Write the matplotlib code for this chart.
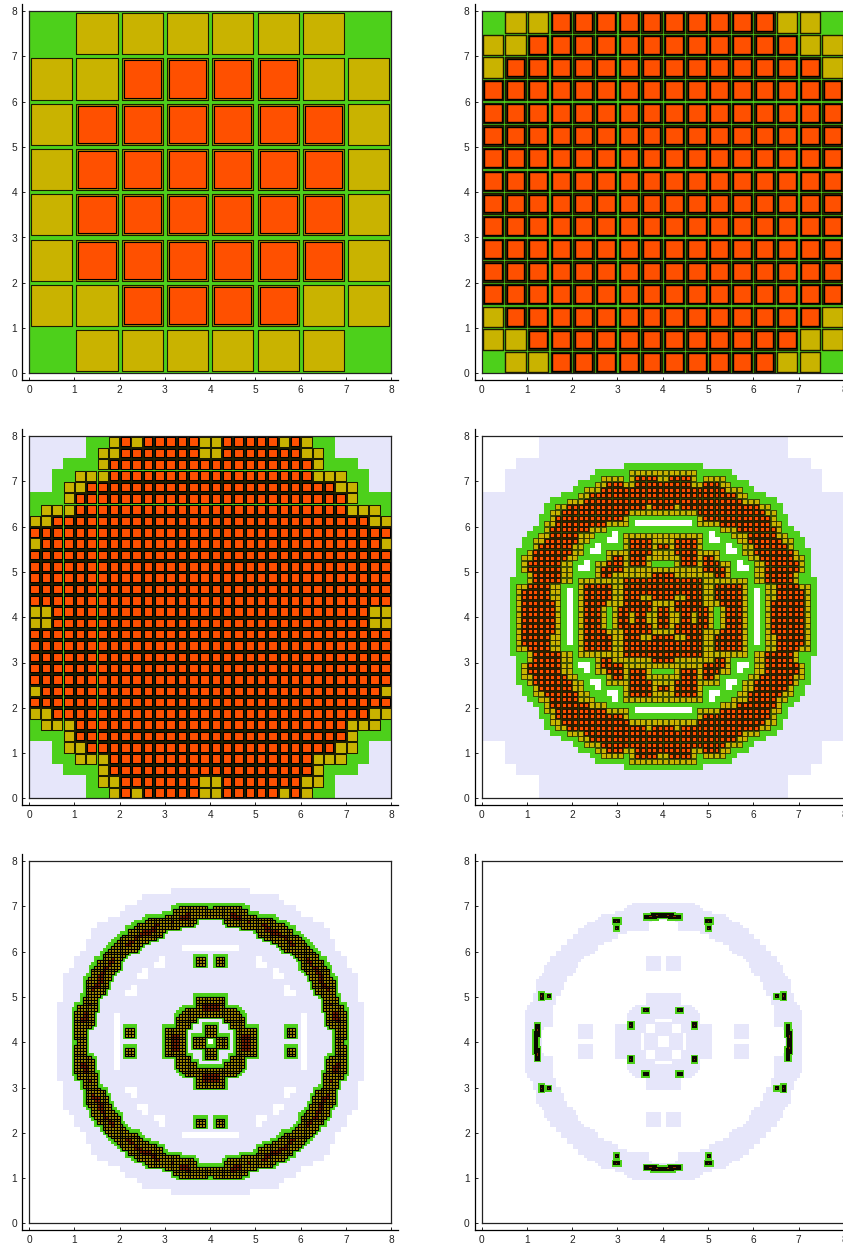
import numpy as np
import matplotlib
matplotlib.use('Agg')
import matplotlib.pyplot as plt
from matplotlib.colors import ListedColormap
from matplotlib.collections import PatchCollection
from matplotlib.patches import Rectangle

# top-left quadrants of the maps, mirrored when drawn
# . white, L lavender, G green, Y yellow assembly, O orange assembly
map_8 = ['GYYY',
         'YYOO',
         'YOOO',
         'YOOO']

map_16 = ['GYYOOOOO',
          'YYOOOOOO',
          'YOOOOOOO',
          'OOOOOOOO',
          'OOOOOOOO',
          'OOOOOOOO',
          'OOOOOOOO',
          'OOOOOOOO']

map_32 = ['LLLLLGGYOYOOOOOY',
          'LLLLLGYYOOOOOOOY',
          'LLLGGGYOOOOOOOOO',
          'LLGGYYYOOOOOOOOO',
          'LLGYYOOOOOOOOOOO',
          'GGGYOOOOOOOOOOOO',
          'GYYYOOOOOOOOOOOO',
          'YYOOOOOOOOOOOOOO',
          'OOOOOOOOOOOOOOOO',
          'YOOOOOOOOOOOOOOO',
          'OOOOOOOOOOOOOOOO',
          'OOOOOOOOOOOOOOOO',
          'OOOOOOOOOOOOOOOO',
          'OOOOOOOOOOOOOOOO',
          'OOOOOOOOOOOOOOOO',
          'YYOOOOOOOOOOOOOO']

map_64 = ['..........LLLLLLLLLLLLLLLLLLLLLL',
          '..........LLLLLLLLLLLLLLLLLLLLLL',
          '..........LLLLLLLLLLLLLLLLLLLLLL',
          '..........LLLLLLLLLLLLLLLLLLLLLL',
          '......LLLLLLLLLLLLLLLLLLLLLLLLLL',
          '......LLLLLLLLLLLLLLLLLLLGGGGGGG',
          '....LLLLLLLLLLLLLLLLGGGGGGYYYYYY',
          '....LLLLLLLLLLLLLLLGGYYYYGYOOOOY',
          '....LLLLLLLLLLLLLGGGYYOOOYYOOOOO',
          '....LLLLLLLLLLLLGGYYYOOOOOOOOOOO',
          'LLLLLLLLLLLLLLGGGYYOOOOOOOOOOOOO',
          'LLLLLLLLLLLLGGGYYYOOOOOOOOOOOOOO',
          'LLLLLLLLLLLGGYYOOOOOOOOOOOOOOYOO',
          'LLLLLLLLLLLGYYOOOOOOOOOOOOYYYYYY',
          'LLLLLLLLLLGGYOOOOOOOOOOOOYGGGGGG',
          'LLLLLLLLLLGYYOOOOOOOOOYYYYG.....',
          'LLLLLLLLLGGYOOOOOOOYYYGGGGGGGGGG',
          'LLLLLLLLGGYYOOOOOYYYGGG.GYYYYYYY',
          'LLLLLLLGGYYOOOOOOYYGGG..GYOOOOYY',
          'LLLLLLLGGYOOOOOOYYGG.GGGGYOOOOYO',
          'LLLLLLGGYOOOOOOOYYG..GYYYYOOOOYY',
          'LLLLLLGYYOOOOOOYYGGGGGYOOYOOOYYY',
          'LLLLLLGYOOOOOOYYGG.GYYOOOYOOOYGG',
          'LLLLLLGYOOOOOOYYG..GYOOOOYYYYYYY',
          'LLLLLLGGYOOOOOYYGGGGYOOYYYYYYYOO',
          'LLLLLGGGYOOOOOYYGYYYYYYYYOOOOOOO',
          'LLLLLGYYOOOOYYGGGYOOOOOYYOOOOOOO',
          'LLLLLGYOOOOOYYG.GYOOOOOYYOOOOOOO',
          'LLLLLGYOOOOOYYG.GYOOOOOYYOOOYYOO',
          'LLLLLGYOOOOOOYG.GYOOOOYYYOOOOOYY',
          'LLLLLGYOOOOOOYG.GYOOOYGYOOOOOOYO',
          'LLLLLGYOOOOOOYG.GYOOOYGYOOYOOYYO']

# start column of the lavender disc per 1/8 row, panel 5
lav_start = [32, 32, 32, 32, 32, 25, 20, 19, 17, 16, 14, 12, 11, 11, 10, 10,
             9, 8, 8, 7, 6, 6, 6, 6, 6, 5, 5, 5, 5, 5, 5, 5]
lav_holes = [(15, 27), (15, 28), (15, 29), (15, 30), (15, 31),
             (17, 23), (18, 22), (18, 23), (19, 20), (20, 19), (20, 20),
             (22, 18), (23, 17), (23, 18), (31, 31)]

# fuel ring of panel 5, 1/16 rows 16..63: first and last column
ring_start = [54, 54, 51, 48, 43, 41, 38, 37, 35, 35, 33, 33, 31, 30, 29, 29,
              27, 27, 26, 25, 24, 24, 23, 23, 23, 23, 20, 20, 20, 20, 20, 20,
              19, 19, 19, 17, 17, 16, 16, 16, 16, 16, 17, 17, 17, 17, 17, 17]
ring_end = [62, 63, 63, 63, 58, 58, 57, 52, 46, 46, 45, 42, 41, 39, 37, 36,
            34, 33, 31, 31, 31, 31, 30, 28, 28, 28, 27, 27, 27, 26, 26, 24,
            23, 23, 23, 23, 23, 22, 22, 22, 22, 22, 19, 19, 19, 19, 19, 19]
# inner ring of panel 5, rows 48..63
core_start = [59, 59, 59, 59, 59, 55, 53, 52, 52, 52, 52, 48, 48, 48, 48, 48]
core_end = [63, 63, 63, 63, 63, 63, 63, 58, 58, 56, 56, 53, 53, 54, 54, 54]
# separate blocks of panel 5: row from, row to, col from, col to
block_r0 = [34, 58]
block_r1 = [36, 61]
block_c0 = [59, 62]
block_c1 = [61, 63]

# lavender band of panel 6, rows 15..63
band_start = [53, 51, 50, 47, 42, 41, 40, 37, 37, 34, 34, 32, 32, 30, 30, 28, 28,
              26, 26, 24, 24, 23, 22, 22, 22, 21, 20, 19, 19, 19, 19, 19, 18, 18,
              18, 17, 16, 16, 15, 15, 15, 15, 15, 15, 15, 15, 15, 15, 15]
band_end = [63, 63, 63, 63, 63, 63, 59, 58, 58, 53, 47, 47, 47, 45, 42, 40, 40,
            39, 37, 35, 34, 33, 31, 31, 31, 30, 29, 28, 28, 27, 26, 26, 26, 25,
            25, 25, 24, 24, 24, 24, 24, 24, 24, 24, 20, 20, 20, 20, 20]
# centre blob of panel 6, rows and columns 47..63
centre_map = ['...........LLLLLL',
              '...........LLLLLL',
              '...........LLLLLL',
              '...........LLLLLL',
              '.......LLLLLLLLLL',
              '......LLLLLLLLLLL',
              '.....LLLLLLLLLLLL',
              '....LLLLLLLLLLLLL',
              '....LLLLLLLLLLLLL',
              '....LLLLLLLLL....',
              '....LLLLLLLLL....',
              '.LLLLLLLLLL...LLL',
              'LLLLLLLLLLL...LLL',
              'LLLLLLLLLLL...LLL',
              'LLLLLLLL..LLLLLLL',
              'LLLLLLLL..LLLLL..',
              'LLLLLLLL..LLLLL..']
# squares of panel 6: row from, row to, col from, col to
square_r0 = [34]
square_r1 = [38]
square_c0 = [58]
square_c1 = [62]
# fuel clusters of panel 6 in 1/16 units: col from, col to, row from, row to
cluster_c0 = [57.5, 60.0, 46.5, 47.0, 52.0]
cluster_c1 = [62.0, 64.0, 49.0, 48.5, 53.5]
cluster_r0 = [19.0, 18.5, 20.5, 23.0, 57.0]
cluster_r1 = [20.5, 20.0, 22.0, 24.5, 59.0]

tick_values = [0, 1, 2, 3, 4, 5, 6, 7, 8]

GREEN = '#4dd01b'
YELLOW = '#c9b300'
ORANGE = '#ff5000'
LAVENDER = '#e6e6fa'
CODES = {'.': 0, 'L': 1, 'G': 2, 'Y': 2, 'O': 2}
base_cmap = ListedColormap(['white', LAVENDER, GREEN])


def mirror(q):
    top = np.hstack([q, q[:, ::-1]])
    return np.vstack([top, top[::-1]])


def char_grid(rows):
    return mirror(np.array([list(r) for r in rows]))


def dilate(mask):
    out = mask.copy()
    for dr in (-1, 0, 1):
        for dc in (-1, 0, 1):
            out |= np.roll(np.roll(mask, dr, 0), dc, 1)
    return out


def setup_panel(col, row):
    px_l = [29.0, 481.5][col]
    px_t = [11, 436, 861][row]
    size = 362.4
    W, H = 843.0, 1247.0
    ax = fig.add_axes([px_l / W, 1 - (px_t + size) / H, size / W, size / H], zorder=2)
    ax.set_xlim(0, 8)
    ax.set_ylim(0, 8)
    ax.set_xticks([])
    ax.set_yticks([])
    for s in ax.spines.values():
        s.set_linewidth(0.9)
        s.set_color('#222222')

    # separate offset axis lines carrying the ticks
    off = 7.0
    scale = size / 8.0
    ax2 = fig.add_axes([(px_l - off) / W, 1 - (px_t + size + off) / H,
                        (size + 2 * off) / W, (size + 2 * off) / H], zorder=1)
    ax2.patch.set_visible(False)
    ax2.set_xlim(-off / scale, 8 + off / scale)
    ax2.set_ylim(-off / scale, 8 + off / scale)
    ax2.spines['top'].set_visible(False)
    ax2.spines['right'].set_visible(False)
    ax2.spines['left'].set_linewidth(0.9)
    ax2.spines['bottom'].set_linewidth(0.9)
    ax2.set_xticks(tick_values)
    ax2.set_yticks(tick_values)
    ax2.tick_params(direction='in', length=2.5, width=0.7, labelsize=7.3,
                    colors='#222222', pad=3.5)
    return ax


def draw_base(ax, codes):
    ax.imshow(codes, cmap=base_cmap, vmin=0, vmax=2, extent=(0, 8, 0, 8),
              origin='upper', interpolation='nearest', aspect='auto', zorder=1)


def draw_map(ax, rows, inset, inner, lw, ring_color):
    grid = char_grid(rows)
    n = grid.shape[0]
    cell = 8.0 / n
    codes = np.vectorize(CODES.get)(grid)
    draw_base(ax, codes)
    outer_rects, outer_colors, inner_rects = [], [], []
    for r in range(n):
        for c in range(n):
            if grid[r, c] not in 'YO':
                continue
            x, y = c * cell, 8 - (r + 1) * cell
            outer_rects.append(Rectangle((x + inset * cell, y + inset * cell),
                                         cell * (1 - 2 * inset), cell * (1 - 2 * inset)))
            outer_colors.append(YELLOW if grid[r, c] == 'Y' else ring_color)
            if grid[r, c] == 'O':
                inner_rects.append(Rectangle((x + inner * cell, y + inner * cell),
                                             cell * (1 - 2 * inner), cell * (1 - 2 * inner)))
    ax.add_collection(PatchCollection(outer_rects, facecolor=outer_colors, edgecolor='#1c1c00',
                                      linewidth=lw, zorder=2))
    ax.add_collection(PatchCollection(inner_rects, facecolor=ORANGE, edgecolor='black',
                                      linewidth=lw, zorder=3))


def fill_spans(mask, first_row, start, end):
    for i, (a, b) in enumerate(zip(start, end)):
        mask[first_row + i, a:b + 1] = True


def panel_five(ax):
    lav = np.ones((32, 32), dtype=bool)
    for r, a in enumerate(lav_start):
        lav[r, :a] = False
    for r, c in lav_holes:
        lav[r, c] = False
        lav[c, r] = False
    lav_full = mirror(np.kron(lav, np.ones((2, 2), dtype=bool)))

    fuel = np.zeros((64, 64), dtype=bool)
    fill_spans(fuel, 16, ring_start, ring_end)
    fill_spans(fuel, 48, core_start, core_end)
    for r0, r1, c0, c1 in zip(block_r0, block_r1, block_c0, block_c1):
        fuel[r0:r1 + 1, c0:c1 + 1] = True
    fuel = fuel | fuel.T
    fuel = mirror(fuel)

    codes = lav_full.astype(int)
    codes[dilate(fuel)] = 2
    draw_base(ax, codes)

    cell = 8.0 / 128
    core = ~dilate(~fuel)
    core = ~dilate(~core)
    rects, colors = [], []
    for r, c in zip(*np.nonzero(fuel)):
        rects.append(Rectangle((c * cell, 8 - (r + 1) * cell), cell, cell))
        colors.append('#a02c00' if core[r, c] else '#c8aa00')
    ax.add_collection(PatchCollection(rects, facecolor=colors, edgecolor='black',
                                      linewidth=0.85, zorder=2))


def panel_six(ax):
    lav = np.zeros((64, 64), dtype=bool)
    fill_spans(lav, 15, band_start, band_end)
    centre = np.array([[ch == 'L' for ch in r] for r in centre_map])
    lav[47:64, 47:64] |= centre
    for r0, r1, c0, c1 in zip(square_r0, square_r1, square_c0, square_c1):
        lav[r0:r1 + 1, c0:c1 + 1] = True
    lav = lav | lav.T
    draw_base(ax, mirror(lav).astype(int))

    u = 8.0 / 128
    green, black, hot = [], [], []
    for c0, c1, r0, r1 in zip(cluster_c0, cluster_c1, cluster_r0, cluster_r1):
        for a0, a1, b0, b1 in [(c0, c1, r0, r1), (r0, r1, c0, c1)]:
            for xa, xb in [(a0, a1), (128 - a1, 128 - a0)]:
                for ya, yb in [(b0, b1), (128 - b1, 128 - b0)]:
                    x, y, w, h = xa * u, 8 - yb * u, (xb - xa) * u, (yb - ya) * u
                    pad = 0.55 * u
                    green.append(Rectangle((x - pad, y - pad), w + 2 * pad, h + 2 * pad))
                    black.append(Rectangle((x, y), w, h))
                    hot.append(Rectangle((x + w * 0.4, y + h * 0.4), w * 0.2, h * 0.2))
    ax.add_collection(PatchCollection(green, facecolor=GREEN, edgecolor='none', zorder=2))
    ax.add_collection(PatchCollection(black, facecolor='#0a0a00', edgecolor='none', zorder=3))
    ax.add_collection(PatchCollection(hot, facecolor='#8a2a00', edgecolor='none', zorder=4))


fig = plt.figure(figsize=(8.43, 12.47), dpi=100)
plt.rcParams['font.family'] = ['Liberation Sans', 'DejaVu Sans']

draw_map(setup_panel(0, 0), map_8, 0.045, 0.09, 0.8, '#a08c00')
draw_map(setup_panel(1, 0), map_16, 0.05, 0.11, 1.0, '#3a2c00')
draw_map(setup_panel(0, 1), map_32, 0.05, 0.12, 0.75, '#2a1c00')
draw_map(setup_panel(1, 1), map_64, 0.05, 0.15, 0.5, '#5a4400')
panel_five(setup_panel(0, 2))
panel_six(setup_panel(1, 2))

fig.savefig('out.png', dpi=100)
